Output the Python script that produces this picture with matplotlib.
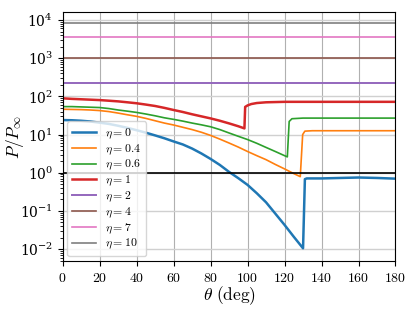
import matplotlib
matplotlib.use("Agg")
import matplotlib.pyplot as plt
from matplotlib.ticker import FuncFormatter

plt.rcParams['mathtext.fontset'] = 'cm'
plt.rcParams['font.family'] = 'serif'
plt.rcParams['font.serif'] = ['DejaVu Serif']

# eta = 0
theta_0 = [0, 5, 10, 15, 20, 25, 30, 35, 40, 45, 50, 55, 60, 65, 70, 75, 80, 85, 90,
           95, 100, 105, 110, 115, 120, 125, 130,
           131, 132, 140, 150, 160, 170, 180]
p_0 = [24, 23.7, 23, 22, 20.5, 19, 17, 15, 13, 11.2, 9.5, 8, 6.6, 5.5, 4.3, 3.2, 2.3, 1.6, 1.05,
       0.72, 0.48, 0.29, 0.168, 0.085, 0.043, 0.021, 0.0105,
       0.68, 0.71, 0.71, 0.73, 0.75, 0.73, 0.70]

# eta = 0.4
theta_04 = [0, 5, 10, 15, 20, 25, 30, 35, 40, 45, 50, 55, 60, 65, 70, 75, 80, 85, 90,
            95, 100, 105, 110, 115, 120, 125, 128.5,
            129.8, 131, 135, 180]
p_04 = [46, 45.5, 45, 44, 42.5, 40, 36.5, 33, 30, 26.5, 23, 20, 17.8, 15.5, 13.5, 11.5, 9.5, 7.6, 6.0,
        4.7, 3.6, 2.8, 2.2, 1.65, 1.26, 0.95, 0.79,
        10, 12.3, 12.6, 12.6]

# eta = 0.6
theta_06 = [0, 5, 10, 15, 20, 25, 30, 35, 40, 45, 50, 55, 60, 65, 70, 75, 80, 85, 90,
            95, 100, 105, 110, 115, 120, 121.5,
            122.5, 124, 130, 180]
p_06 = [54, 54, 53, 52, 51, 48, 44, 41, 38, 34.5, 31, 27.5, 25, 22.5, 20, 18, 16, 13.5, 11,
        9, 7.4, 5.9, 4.6, 3.6, 2.8, 2.6,
        22, 26, 27, 27]

# eta = 1
theta_1 = [0, 5, 10, 15, 20, 25, 30, 35, 40, 45, 50, 55, 60, 65, 70, 75, 80, 85, 90,
           95, 98.3,
           98.7, 100, 102, 105, 110, 120, 180]
p_1 = [89, 86, 84, 82, 80, 77, 74, 70, 66, 61, 56, 50, 44, 39, 34, 30, 26.5, 23, 19.6,
       16.5, 14.5,
       53, 58, 63, 67, 70, 72, 72]

# larger eta: flat
theta_flat = [0, 180]
p_2 = [227, 227]
p_4 = [990, 990]
p_7 = [3630, 3630]
p_10 = [8500, 8500]

fig = plt.figure(figsize=(4.15, 3.11), dpi=100)
ax = fig.add_axes([0.151, 0.161, 0.802, 0.799])

ax.plot(theta_0, p_0, color='#1f77b4', lw=1.8, label=r'$\eta = 0$')
ax.plot(theta_04, p_04, color='#ff7f0e', lw=1.2, label=r'$\eta = 0.4$')
ax.plot(theta_06, p_06, color='#2ca02c', lw=1.2, label=r'$\eta = 0.6$')
ax.plot(theta_1, p_1, color='#d62728', lw=1.8, label=r'$\eta = 1$')
ax.plot(theta_flat, p_2, color='#9467bd', lw=1.4, label=r'$\eta = 2$')
ax.plot(theta_flat, p_4, color='#8c564b', lw=1.2, label=r'$\eta = 4$')
ax.plot(theta_flat, p_7, color='#e377c2', lw=1.2, label=r'$\eta = 7$')
ax.plot(theta_flat, p_10, color='#7f7f7f', lw=1.2, label=r'$\eta = 10$')

ax.axhline(1, color='black', lw=1.2)

ax.set_yscale('log')
ax.set_xlim(0, 180)
ax.set_ylim(0.0049, 15800)
ax.set_xticks(range(0, 181, 20))
ax.xaxis.set_major_formatter(FuncFormatter(lambda v, pos: f'${v:g}$'))

ax.grid(True, axis='x', color='#b0b0b0', lw=0.8)
ax.grid(True, axis='y', which='major', color='#d0d0d0', lw=1.0)
ax.tick_params(labelsize=10)

ax.set_xlabel(r'$\theta\ \mathrm{(deg)}$', fontsize=12.5)
ax.set_ylabel(r'$P/P_\infty$', fontsize=12.5)
ax.xaxis.set_label_coords(0.5, -0.095)
ax.yaxis.set_label_coords(-0.11, 0.5)

ax.legend(loc='lower left', fontsize=8.5, handlelength=2.0, labelspacing=0.1,
          borderaxespad=0.4, borderpad=0.4)

fig.savefig('out.png', dpi=100)
